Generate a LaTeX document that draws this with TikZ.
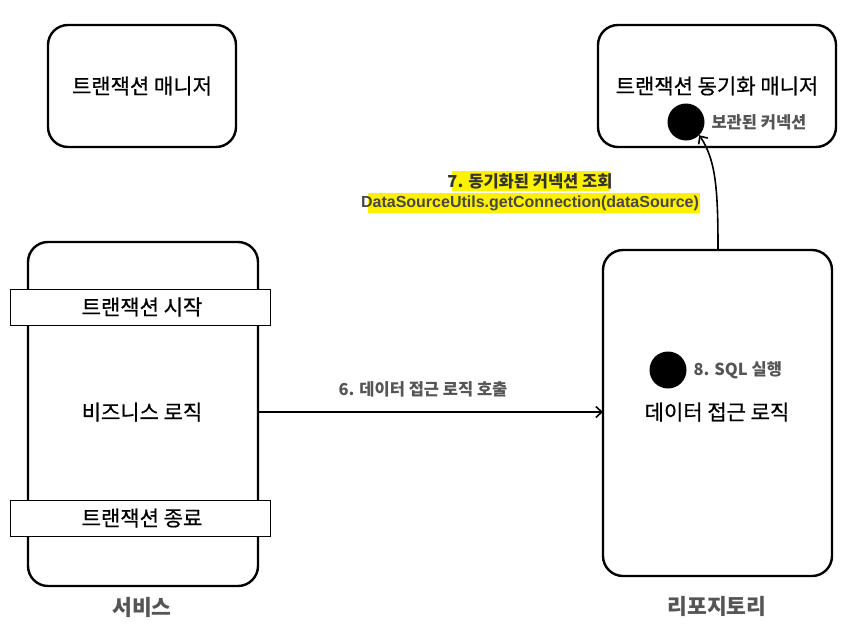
\documentclass[tikz,border=0pt]{standalone}
\usepackage{fontspec}
\setmainfont{Noto Sans CJK KR}
\newfontfamily\latinfb{Liberation Sans Bold}
\newfontfamily\titlef[FakeBold=0.6]{Noto Sans CJK KR}
\usetikzlibrary{arrows.meta}
\definecolor{lbl}{HTML}{555555}
\definecolor{hl}{HTML}{FFF200}
\tikzset{
  rbox/.style={draw=black, line width=2.4pt, rounded corners=20pt},
  band/.style={draw=black, line width=0.8pt, fill=white},
  title/.style={font=\titlef\fontsize{21}{24}\selectfont, text=black},
  glabel/.style={font=\fontsize{16.5}{19}\selectfont\bfseries, text=lbl},
  captext/.style={font=\fontsize{21.5}{24}\selectfont\bfseries, text=lbl},
  dot/.style={circle, fill=black, minimum size=37pt, inner sep=0pt},
  conn/.style={line width=1.6pt, -{Straight Barb[length=6pt,width=11pt,line width=1.6pt]}},
}
\begin{document}
\begin{tikzpicture}[x=1pt,y=-1pt]
\useasboundingbox (0,0) rectangle (850,626);
% top left
\draw[rbox] (48,25) rectangle (236,147);
\node[title] (tm) at (142,86) {트랜잭션 매니저};
% top right
\draw[rbox] (598,25) rectangle (836,147);
\node[title] (tsm) at (717,86) {트랜잭션 동기화 매니저};
\node[dot] (cdot) at (686,122) {};
\node[glabel, anchor=west] (clbl) at (708,122) {보관된 커넥션};
% service
\draw[rbox] (28,242) rectangle (258,586);
\draw[band] (10,289) rectangle (270,325);
\node[title] (ts) at (142,307) {트랜잭션 시작};
\draw[band] (10,500) rectangle (270,536);
\node[title] (te) at (142,518) {트랜잭션 종료};
\node[title] (biz) at (142,412) {비즈니스 로직};
\node[captext] (svc) at (142,607) {서비스};
\coordinate (svcR) at (258,412);
% repository
\draw[rbox] (603,250) rectangle (832,576);
\coordinate (repL) at (603,412);
\coordinate (repT) at (718,250);
\node[dot] (sdot) at (668,370) {};
\node[glabel, anchor=west] (slbl) at (690,370) {8. SQL 실행};
\node[title] (dal) at (717,412) {데이터 접근 로직};
\node[captext] (rep) at (717,606) {리포지토리};
% arrow 6
\draw[conn] (svcR) -- (repL);
\node[glabel] (l6) at (423,389) {6. 데이터 접근 로직 호출};
% arrow 7
\draw[conn] (repT) .. controls (718,190) and (716,160) .. (cdot.south east);
\fill[hl] (452,171) rectangle (610,191);
\fill[hl] (368,193) rectangle (700,213);
\node[glabel, text=black!80] (l7a) at (530,181) {7. 동기화된 커넥션 조회};
\node[font=\latinfb\fontsize{16}{18}\selectfont, text=black!72] (l7b) at (530,203) {DataSourceUtils.getConnection(dataSource)};
\end{tikzpicture}
\end{document}
